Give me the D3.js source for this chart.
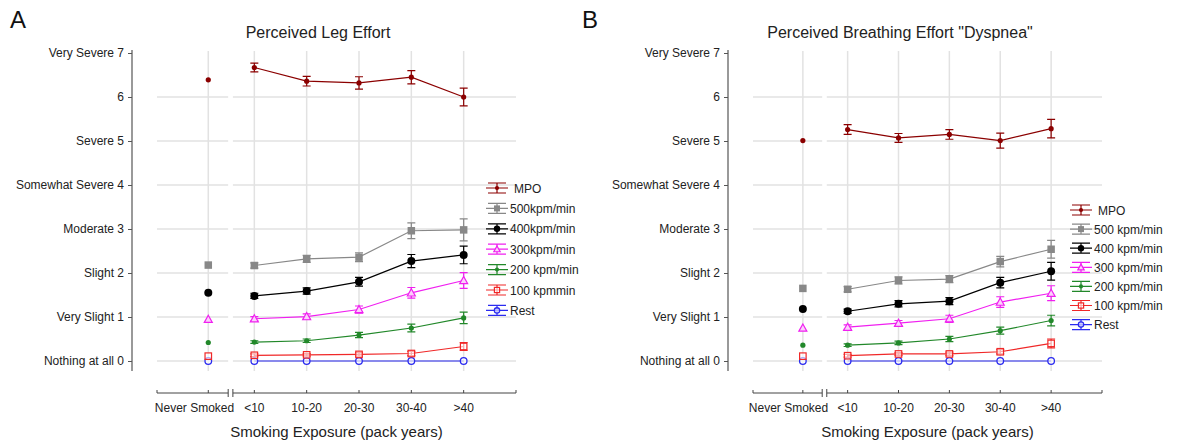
<!DOCTYPE html>
<html>
<head>
<meta charset="utf-8">
<script src="https://cdn.jsdelivr.net/npm/d3@7"></script>
<style>
  body { margin: 0; background: #fff; }
  svg { display: block; font-family: 'Liberation Sans', Arial, sans-serif; }
</style>
</head>
<body>
<div id="chart"></div>
<script>
// categories on the x axis
const categories = ['Never Smoked', '<10', '10-20', '20-30', '30-40', '>40'];
const yTickLabels = ['Nothing at all 0', 'Very Slight 1', 'Slight 2', 'Moderate 3',
  'Somewhat Severe 4', 'Severe 5', '6', 'Very Severe 7'];

// Panel A - perceived leg effort (mean, SE)
const legMPO = [6.39, 6.67, 6.36, 6.32, 6.45, 6.00];
const legMPOErr = [0, 0.10, 0.11, 0.14, 0.15, 0.20];
const leg500 = [2.18, 2.17, 2.32, 2.36, 2.96, 2.98];
const leg500Err = [0, 0.06, 0.08, 0.10, 0.18, 0.25];
const leg400 = [1.55, 1.48, 1.59, 1.80, 2.27, 2.41];
const leg400Err = [0, 0.06, 0.07, 0.10, 0.15, 0.20];
const leg300 = [0.95, 0.96, 1.01, 1.17, 1.55, 1.83];
const leg300Err = [0, 0.05, 0.06, 0.08, 0.12, 0.18];
const leg200 = [0.42, 0.43, 0.46, 0.59, 0.75, 0.98];
const leg200Err = [0, 0.03, 0.04, 0.06, 0.09, 0.13];
const leg100 = [0.11, 0.13, 0.14, 0.15, 0.17, 0.33];
const leg100Err = [0, 0.03, 0.03, 0.04, 0.05, 0.09];
const legRest = [0, 0, 0, 0, 0, 0];
const legRestErr = [0, 0, 0, 0, 0, 0];

// Panel B - perceived breathing effort (dyspnea)
const dysMPO = [5.01, 5.26, 5.07, 5.15, 5.01, 5.28];
const dysMPOErr = [0, 0.11, 0.10, 0.11, 0.17, 0.21];
const dys500 = [1.65, 1.63, 1.83, 1.86, 2.26, 2.54];
const dys500Err = [0, 0.06, 0.08, 0.08, 0.12, 0.20];
const dys400 = [1.18, 1.13, 1.30, 1.36, 1.78, 2.04];
const dys400Err = [0, 0.05, 0.07, 0.08, 0.12, 0.20];
const dys300 = [0.75, 0.77, 0.86, 0.96, 1.34, 1.54];
const dys300Err = [0, 0.05, 0.06, 0.08, 0.12, 0.17];
const dys200 = [0.36, 0.36, 0.41, 0.50, 0.69, 0.92];
const dys200Err = [0, 0.03, 0.04, 0.06, 0.08, 0.12];
const dys100 = [0.11, 0.12, 0.16, 0.16, 0.21, 0.40];
const dys100Err = [0, 0.03, 0.03, 0.04, 0.05, 0.10];
const dysRest = [0, 0, 0, 0, 0, 0];
const dysRestErr = [0, 0, 0, 0, 0, 0];

const legLabelsA = ['MPO', '500kpm/min', '400kpm/min', '300kpm/min', '200 kpm/min', '100 kpmmin', 'Rest'];
const legLabelsB = ['MPO', '500 kpm/min', '400 kpm/min', '300 kpm/min', '200 kpm/min', '100 kpm/min', 'Rest'];

const STYLE = [
  { color: '#8b0000', marker: 'dot' },
  { color: '#888888', marker: 'square' },
  { color: '#000000', marker: 'bigdot' },
  { color: '#f020f0', marker: 'triangle' },
  { color: '#22882a', marker: 'dot' },
  { color: '#f02828', marker: 'opensquare' },
  { color: '#2b2bf0', marker: 'opencircle' },
];

const W = 1181, H = 440;
const NEVER_POS = 0.12; // never-smoked sits just before the axis break

const svg = d3.select('#chart').append('svg')
  .attr('width', W).attr('height', H)
  .attr('viewBox', `0 0 ${W} ${H}`);

const ys = d3.scaleLinear().domain([0, 7]).range([361, 53]);

function drawPanel(p) {
  const g = svg.append('g');
  const xs = d3.scaleLinear().domain([-0.86, 6.0]).range([p.x0, p.x1]);
  const pos = (i) => (i === 0 ? NEVER_POS : i);
  const breakL = xs(0.50), breakR = xs(0.59);

  // panel letter + title
  g.append('text').attr('x', p.letterX).attr('y', 28)
    .attr('font-size', '24px').attr('fill', '#111').text(p.letter);
  g.append('text').attr('x', p.titleX).attr('y', 38)
    .attr('text-anchor', 'middle').attr('font-size', '16px').attr('fill', '#222')
    .text(p.title);

  // gridlines
  const grid = g.append('g').attr('stroke', '#e2e2e2').attr('stroke-width', 1.5);
  d3.range(0, 7).forEach((v) => {
    grid.append('line').attr('x1', p.x0).attr('x2', breakL).attr('y1', ys(v)).attr('y2', ys(v));
    grid.append('line').attr('x1', breakR).attr('x2', p.x1).attr('y1', ys(v)).attr('y2', ys(v));
  });
  categories.forEach((c, i) => {
    grid.append('line').attr('x1', xs(pos(i))).attr('x2', xs(pos(i)))
      .attr('y1', 51).attr('y2', 371);
  });

  // y axis
  const yAxis = d3.axisLeft(ys).tickValues(d3.range(0, 8)).tickSize(4).tickPadding(4)
    .tickFormat((d) => yTickLabels[d]);
  const ya = g.append('g').attr('transform', `translate(${p.axisX},0)`).call(yAxis);
  ya.select('.domain').remove();
  ya.selectAll('line').attr('stroke', '#555');
  ya.selectAll('text').attr('font-size', '12px').attr('fill', '#222')
    .attr('font-family', "'Liberation Sans', Arial, sans-serif");
  g.append('line').attr('x1', p.axisX).attr('x2', p.axisX).attr('y1', 50).attr('y2', 371)
    .attr('stroke', '#555').attr('stroke-width', 1.2);

  // broken x axis
  const xaY = 393;
  const xa = g.append('g').attr('stroke', '#444').attr('stroke-width', 1);
  xa.append('line').attr('x1', p.x0).attr('x2', breakL).attr('y1', xaY).attr('y2', xaY);
  xa.append('line').attr('x1', breakR).attr('x2', p.x1).attr('y1', xaY).attr('y2', xaY);
  [p.x0, p.x1].forEach((x) => xa.append('line').attr('x1', x).attr('x2', x)
    .attr('y1', xaY - 3).attr('y2', xaY));
  [breakL, breakR].forEach((x) => xa.append('line').attr('x1', x).attr('x2', x)
    .attr('y1', xaY - 4).attr('y2', xaY + 4));
  categories.forEach((c, i) => {
    xa.append('line').attr('x1', xs(pos(i))).attr('x2', xs(pos(i)))
      .attr('y1', xaY - 3).attr('y2', xaY);
    const t = g.append('text').attr('y', xaY + 19)
      .attr('font-size', '12px').attr('fill', '#222').text(c);
    if (i === 0) t.attr('x', breakL + 6).attr('text-anchor', 'end');
    else t.attr('x', xs(pos(i))).attr('text-anchor', 'middle');
  });
  g.append('text').attr('x', (p.x0 + p.x1) / 2).attr('y', 437)
    .attr('text-anchor', 'middle').attr('font-size', '15px').attr('fill', '#222')
    .text('Smoking Exposure (pack years)');

  // series
  const line = d3.line().x((d) => xs(d.x)).y((d) => ys(d.y));
  p.series.slice().reverse().forEach((s, ri) => {
    const si = p.series.length - 1 - ri;
    const st = STYLE[si];
    const pts = s.values.map((v, i) => ({ x: pos(i), y: v, e: s.err[i] }));
    const sg = g.append('g');
    sg.append('path').datum(pts.slice(1)).attr('d', line)
      .attr('fill', 'none').attr('stroke', st.color).attr('stroke-width', 1.2);
    pts.filter((d) => d.e > 0).forEach((d) => {
      const x = xs(d.x), y1 = ys(d.y - d.e), y2 = ys(d.y + d.e);
      sg.append('path')
        .attr('d', `M${x},${y1}V${y2}M${x - 4},${y1}H${x + 4}M${x - 4},${y2}H${x + 4}`)
        .attr('fill', 'none').attr('stroke', st.color).attr('stroke-width', 1.2);
    });
    pts.forEach((d) => drawMarker(sg, xs(d.x), ys(d.y), st));
  });

  // legend
  p.legendLabels.forEach((lab, i) => {
    const st = STYLE[i];
    const cx = p.legX, cy = p.legY + i * p.legStep;
    const lg = g.append('g');
    lg.append('path')
      .attr('d', `M${cx - 11},${cy}H${cx + 11}M${cx - 9},${cy - 5}H${cx + 9}M${cx - 9},${cy + 5}H${cx + 9}M${cx},${cy - 5}V${cy + 5}`)
      .attr('fill', 'none').attr('stroke', st.color).attr('stroke-width', 1.2);
    drawMarker(lg, cx, cy, st, 0.8);
    lg.append('text').attr('x', cx + 13 + (i === 0 ? 4 : 0)).attr('y', cy + 4.5)
      .attr('font-size', '12px').attr('fill', '#222').text(lab);
  });
}

function drawMarker(sel, x, y, st, k = 1) {
  const c = st.color;
  if (st.marker === 'dot') {
    sel.append('circle').attr('cx', x).attr('cy', y).attr('r', 2.6 * k).attr('fill', c);
  } else if (st.marker === 'bigdot') {
    sel.append('circle').attr('cx', x).attr('cy', y).attr('r', 4 * k).attr('fill', c);
  } else if (st.marker === 'square') {
    const s = 7.5 * k;
    sel.append('rect').attr('x', x - s / 2).attr('y', y - s / 2).attr('width', s).attr('height', s)
      .attr('fill', c);
  } else if (st.marker === 'opensquare') {
    const s = 6.5 * k;
    sel.append('rect').attr('x', x - s / 2).attr('y', y - s / 2).attr('width', s).attr('height', s)
      .attr('fill', '#fff').attr('fill-opacity', 0.6).attr('stroke', c).attr('stroke-width', 1.2);
  } else if (st.marker === 'opencircle') {
    sel.append('circle').attr('cx', x).attr('cy', y).attr('r', 3.3 * k)
      .attr('fill', '#fff').attr('fill-opacity', 0.6).attr('stroke', c).attr('stroke-width', 1.3);
  } else if (st.marker === 'triangle') {
    const s = 4 * k;
    sel.append('path').attr('d', `M${x},${y - s}L${x + s},${y + s * 0.8}L${x - s},${y + s * 0.8}Z`)
      .attr('fill', '#fbd0fb').attr('stroke', c).attr('stroke-width', 1.2);
  }
}

drawPanel({
  letter: 'A', letterX: 10, title: 'Perceived Leg Effort', titleX: 318,
  axisX: 132, x0: 157, x1: 516,
  legX: 497, legY: 188, legStep: 20.4, legendLabels: legLabelsA,
  series: [
    { values: legMPO, err: legMPOErr }, { values: leg500, err: leg500Err },
    { values: leg400, err: leg400Err }, { values: leg300, err: leg300Err },
    { values: leg200, err: leg200Err }, { values: leg100, err: leg100Err },
    { values: legRest, err: legRestErr },
  ],
});

drawPanel({
  letter: 'B', letterX: 582, title: 'Perceived Breathing Effort "Dyspnea"', titleX: 900,
  axisX: 728, x0: 753, x1: 1102,
  legX: 1081, legY: 210, legStep: 19.1, legendLabels: legLabelsB,
  series: [
    { values: dysMPO, err: dysMPOErr }, { values: dys500, err: dys500Err },
    { values: dys400, err: dys400Err }, { values: dys300, err: dys300Err },
    { values: dys200, err: dys200Err }, { values: dys100, err: dys100Err },
    { values: dysRest, err: dysRestErr },
  ],
});
</script>
</body>
</html>
